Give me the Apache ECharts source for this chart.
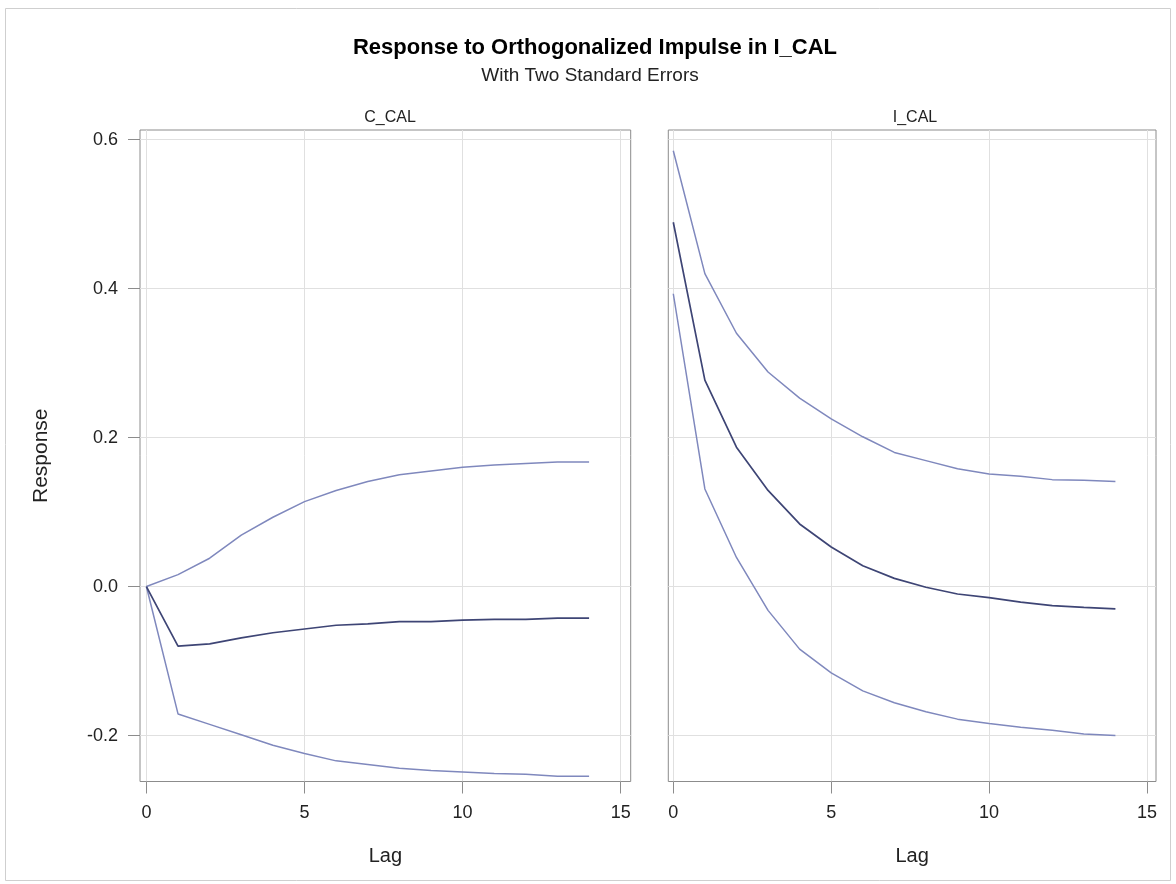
<!DOCTYPE html>
<html>
<head>
<meta charset="utf-8">
<script src="https://cdn.jsdelivr.net/npm/echarts@6/dist/echarts.min.js"></script>
<style>html,body{margin:0;padding:0;background:#fff}#c{width:1176px;height:884px}</style>
</head>
<body>
<div id="c"></div>
<script>
// ---- data ----
const lags = [0,1,2,3,4,5,6,7,8,9,10,11,12,13,14];
const xTicks = [0,5,10,15];
const yTicks = [-0.2,0,0.2,0.4,0.6];
const panelNames = ['C_CAL','I_CAL'];

const cUpper = [0,0.016,0.038,0.069,0.093,0.114,0.129,0.141,0.150,0.155,0.160,0.163,0.165,0.167,0.167];
const cResp  = [0,-0.080,-0.077,-0.069,-0.062,-0.057,-0.052,-0.050,-0.047,-0.047,-0.045,-0.044,-0.044,-0.0425,-0.0425];
const cLower = [0,-0.171,-0.185,-0.199,-0.213,-0.224,-0.234,-0.239,-0.244,-0.247,-0.249,-0.251,-0.252,-0.2545,-0.2545];

const iUpper = [0.585,0.420,0.340,0.288,0.253,0.225,0.201,0.180,0.169,0.158,0.151,0.148,0.1435,0.1426,0.141];
const iResp  = [0.489,0.277,0.187,0.129,0.084,0.053,0.028,0.011,-0.001,-0.010,-0.015,-0.021,-0.0256,-0.028,-0.030];
const iLower = [0.393,0.131,0.039,-0.032,-0.084,-0.116,-0.140,-0.156,-0.168,-0.178,-0.184,-0.189,-0.193,-0.198,-0.200];

const titleText = 'Response to Orthogonalized Impulse in I_CAL';
const subText = 'With Two Standard Errors';
const xName = 'Lag';
const yName = 'Response';

// ---- styling ----
const FONT = '"Liberation Sans", Arial, sans-serif';
const frameColor = '#8c8c8c';
const gridColor = '#e0e0e0';
const textColor = '#222';
const bandColor = '#7f88bd';
const respColor = '#3e4575';

const pair = (ys) => lags.map((l, i) => [l, ys[i]]);

const chart = echarts.init(document.getElementById('c'), null, {renderer: 'canvas'});

function xAxisFor(gi, min, max) {
  return {
    type: 'value', gridIndex: gi, min: min, max: max, position: 'bottom',
    name: xName, nameLocation: 'middle', nameGap: 65,
    nameTextStyle: {fontFamily: FONT, fontSize: 20, color: textColor},
    axisLine: {show: false, onZero: false},
    axisTick: {show: true, length: 12, lineStyle: {color: frameColor}, customValues: xTicks},
    axisLabel: {show: true, margin: 23, fontFamily: FONT, fontSize: 18, color: textColor, customValues: xTicks},
    splitLine: {show: true, lineStyle: {color: gridColor, width: 1}}
  };
}
function yAxisFor(gi, showLabels) {
  return {
    type: 'value', gridIndex: gi, min: -0.2617, max: 0.6128, position: 'left',
    name: showLabels ? yName : '', nameLocation: 'middle', nameGap: 88,
    nameTextStyle: {fontFamily: FONT, fontSize: 21, color: textColor},
    axisLine: {show: false, onZero: false},
    axisTick: {show: showLabels, length: 12, lineStyle: {color: frameColor}, customValues: yTicks},
    axisLabel: {show: showLabels, margin: 22, fontFamily: FONT, fontSize: 18, color: textColor,
      customValues: yTicks, formatter: v => Number(v).toFixed(1)},
    splitLine: {show: true, lineStyle: {color: gridColor, width: 1}}
  };
}
function line(gi, ys, color, w) {
  return {type: 'line', xAxisIndex: gi, yAxisIndex: gi, data: pair(ys), symbol: 'none',
    lineStyle: {color: color, width: w}, silent: true, z: 3, animation: false};
}

const option = {
  backgroundColor: '#fff',
  animation: false,
  title: [
    {text: titleText, left: 590, top: 32, textAlign: 'center',
      textStyle: {fontFamily: FONT, fontSize: 22, fontWeight: 'bold', color: '#000'}},
    {text: subText, left: 585, top: 61, textAlign: 'center',
      textStyle: {fontFamily: FONT, fontSize: 19, fontWeight: 'normal', color: '#222'}},
    {text: panelNames[0], left: 385, top: 105, textAlign: 'center',
      textStyle: {fontFamily: FONT, fontSize: 16, fontWeight: 'normal', color: '#222'}},
    {text: panelNames[1], left: 910, top: 105, textAlign: 'center',
      textStyle: {fontFamily: FONT, fontSize: 16, fontWeight: 'normal', color: '#222'}}
  ],
  grid: [
    {left: 140, top: 130, width: 490.7, height: 651.5, show: true, borderColor: frameColor, borderWidth: 1, backgroundColor: 'transparent'},
    {left: 668.3, top: 130, width: 487.7, height: 651.5, show: true, borderColor: frameColor, borderWidth: 1, backgroundColor: 'transparent'}
  ],
  xAxis: [xAxisFor(0, -0.2024, 15.316), xAxisFor(1, -0.158, 15.285)],
  yAxis: [yAxisFor(0, true), yAxisFor(1, false)],
  series: [
    line(0, cUpper, bandColor, 1.5), line(0, cLower, bandColor, 1.5), line(0, cResp, respColor, 1.7),
    line(1, iUpper, bandColor, 1.5), line(1, iLower, bandColor, 1.5), line(1, iResp, respColor, 1.7)
  ],
  graphic: [
    {type: 'rect', shape: {x: 5.5, y: 8.5, width: 1165, height: 872}, style: {fill: 'none', stroke: '#cfcfcf', lineWidth: 1}, silent: true, z: -1}
  ]
};
chart.setOption(option);
</script>
</body>
</html>
